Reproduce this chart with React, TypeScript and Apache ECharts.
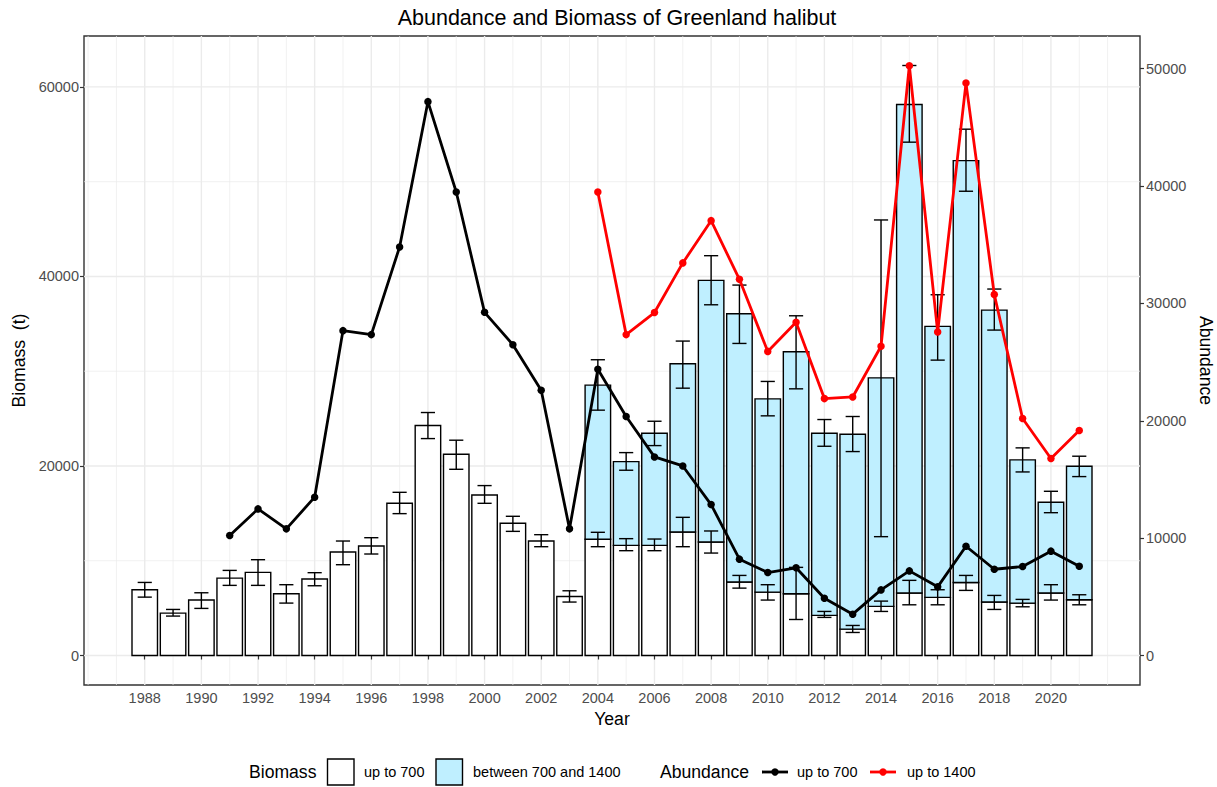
import React, { useEffect, useRef } from "react";
import * as echarts from "echarts";

// ---------- DATA ----------
const years = [
  1988, 1989, 1990, 1991, 1992, 1993, 1994, 1995, 1996, 1997, 1998, 1999, 2000, 2001, 2002, 2003,
  2004, 2005, 2006, 2007, 2008, 2009, 2010, 2011, 2012, 2013, 2014, 2015, 2016, 2017, 2018, 2019, 2020, 2021,
];
// Biomass (t), fish up to 700
const biomassUpTo700 = [
  6940, 4470, 5850, 8170, 8770, 6520, 8070, 10920, 11550, 16060, 24270, 21240, 16940, 13950, 12080, 6230,
  12260, 11620, 11620, 13030, 11980, 7750, 6690, 6520, 4230, 2780, 5180, 6590, 6130, 7710, 5640, 5530, 6590, 5880,
];
const biomassUpTo700Low = [
  6160, 4160, 4970, 7400, 7400, 5530, 7360, 9580, 10710, 14970, 22890, 19650, 16060, 13100, 11480, 5640,
  11480, 11060, 11060, 11480, 10810, 7110, 5850, 3800, 4020, 2430, 4650, 5350, 5350, 6870, 4860, 5140, 5850, 5350,
];
const biomassUpTo700High = [
  7710, 4860, 6620, 8980, 10110, 7470, 8740, 12080, 12430, 17220, 25640, 22720, 17930, 14690, 12750, 6830,
  13000, 12330, 12290, 14580, 13140, 8450, 7470, 9300, 4650, 3170, 5740, 7930, 6940, 8450, 6340, 5920, 7470, 6410,
];
// Biomass (t), fish between 700 and 1400 (stacked on top)
const yearsBig = [2004, 2005, 2006, 2007, 2008, 2009, 2010, 2011, 2012, 2013, 2014, 2015, 2016, 2017, 2018, 2019, 2020, 2021];
const biomass700to1400 = [
  16270, 8840, 11830, 17750, 27610, 28310, 20390, 25530, 19230, 20570, 24120, 51550, 28600, 44510, 30810, 15110, 9580, 14090,
];
const biomassTotalLow = [
  25890, 19550, 22150, 28210, 37010, 32930, 25290, 28140, 22080, 21520, 12540, 54170, 31170, 48990, 34340, 19370, 15070, 18880,
];
const biomassTotalHigh = [
  31210, 21410, 24720, 33180, 42190, 39090, 28920, 35850, 24900, 25220, 45960, 62260, 38070, 55540, 38670, 21910, 17330, 21030,
];
// Abundance
const abundance700Years = [
  1991, 1992, 1993, 1994, 1995, 1996, 1997, 1998, 1999, 2000, 2001, 2002, 2003, 2004, 2005, 2006,
  2007, 2008, 2009, 2010, 2011, 2012, 2013, 2014, 2015, 2016, 2017, 2018, 2019, 2020, 2021,
];
const abundanceUpTo700 = [
  10220, 12490, 10790, 13490, 27680, 27340, 34810, 47190, 39490, 29240, 26480, 22600, 10790, 24390, 20360, 16920,
  16150, 12860, 8210, 7070, 7470, 4880, 3520, 5590, 7210, 5850, 9310, 7350, 7580, 8890, 7610,
];
const abundance1400Years = yearsBig;
const abundanceUpTo1400 = [
  39490, 27340, 29220, 33450, 37050, 32050, 25910, 28390, 21890, 22030, 26350, 50250, 27570, 48770, 30750, 20190, 16780, 19170,
];
// Axis ticks
const xTicks = [1988, 1990, 1992, 1994, 1996, 1998, 2000, 2002, 2004, 2006, 2008, 2010, 2012, 2014, 2016, 2018, 2020];
const leftTicks = [0, 20000, 40000, 60000];
const leftMinorTicks = [10000, 30000, 50000];
const rightTicks = [0, 10000, 20000, 30000, 40000, 50000];

// ---------- LAYOUT / STYLE ----------
const FONT = "Liberation Sans";
const X_MIN = 1985.855;
const X_MAX = 2023.145;
const L_MIN = -3113;
const L_MAX = 65373;
const SEC = 1.2385;
const R_MIN = L_MIN / SEC;
const R_MAX = L_MAX / SEC;
const BAR_HALF = 0.45;
const CAP_HALF = 0.25;
const BLUE = "#BFEFFF";
const GRID_COL = "#EBEBEB";

export default function App() {
  const ref = useRef<HTMLDivElement>(null);

  useEffect(() => {
    if (!ref.current) return;
    const chart = echarts.init(ref.current, undefined, { renderer: "svg" });

    const gridX: number[][] = [];
    for (let y = 1986; y <= 2022; y++) gridX.push([y, xTicks.includes(y) ? 1 : 0]);
    const gridY: number[][] = [
      ...leftMinorTicks.map((v) => [v, 0]),
      ...leftTicks.map((v) => [v, 1]),
    ];

    const whiteBars = years.map((y, i) => [y, 0, biomassUpTo700[i]]);
    const blueBars = yearsBig.map((y, i) => {
      const base = biomassUpTo700[years.indexOf(y)];
      return [y, base, base + biomass700to1400[i]];
    });
    const whiteErr = years.map((y, i) => [y, biomassUpTo700Low[i], biomassUpTo700High[i]]);
    const blueErr = yearsBig.map((y, i) => [y, biomassTotalLow[i], biomassTotalHigh[i]]);

    const barRender = (fill: string) => (params: any, api: any) => {
      const x = api.value(0);
      const lo = api.value(1);
      const hi = api.value(2);
      const p0 = api.coord([x - BAR_HALF, hi]);
      const p1 = api.coord([x + BAR_HALF, lo]);
      return {
        type: "rect",
        shape: { x: p0[0], y: p0[1], width: p1[0] - p0[0], height: p1[1] - p0[1] },
        style: { fill, stroke: "#000", lineWidth: 1.4 },
      };
    };

    const errRender = (params: any, api: any) => {
      const x = api.value(0);
      const lo = api.value(1);
      const hi = api.value(2);
      const a = api.coord([x, lo]);
      const b = api.coord([x, hi]);
      const l = api.coord([x - CAP_HALF, lo]);
      const r = api.coord([x + CAP_HALF, hi]);
      const st = { stroke: "#000", lineWidth: 1.4 };
      return {
        type: "group",
        children: [
          { type: "line", shape: { x1: a[0], y1: a[1], x2: b[0], y2: b[1] }, style: st },
          { type: "line", shape: { x1: l[0], y1: a[1], x2: r[0], y2: a[1] }, style: st },
          { type: "line", shape: { x1: l[0], y1: b[1], x2: r[0], y2: b[1] }, style: st },
        ],
      };
    };

    const vGrid = (params: any, api: any) => {
      const x = api.value(0);
      const major = api.value(1);
      const a = api.coord([x, L_MIN]);
      const b = api.coord([x, L_MAX]);
      return {
        type: "line",
        shape: { x1: a[0], y1: a[1], x2: b[0], y2: b[1] },
        style: { stroke: GRID_COL, lineWidth: major ? 1.4 : 0.7 },
      };
    };
    const hGrid = (params: any, api: any) => {
      const v = api.value(0);
      const major = api.value(1);
      const a = api.coord([X_MIN, v]);
      const b = api.coord([X_MAX, v]);
      return {
        type: "line",
        shape: { x1: a[0], y1: a[1], x2: b[0], y2: b[1] },
        style: { stroke: GRID_COL, lineWidth: major ? 1.4 : 0.7 },
      };
    };

    const tickLabel = { color: "#4D4D4D", fontSize: 14.5, fontFamily: FONT };
    const axisName = { color: "#000", fontSize: 17.6, fontFamily: FONT };
    const tickStyle = { show: true, length: 4, lineStyle: { color: "#333333", width: 1.2 } };

    const legendY = 772;
    const legendText = (text: string, x: number, size: number) => ({
      type: "text",
      x,
      y: legendY,
      style: { text, fontSize: size, fontFamily: FONT, fill: "#000", verticalAlign: "middle", align: "left" },
    });

    chart.setOption({
      animation: false,
      backgroundColor: "#ffffff",
      title: {
        text: "Abundance and Biomass of Greenland halibut",
        left: 612,
        top: 2,
        textAlign: "center",
        textStyle: { fontSize: 21.5, fontWeight: "normal", color: "#000", fontFamily: FONT },
      },
      grid: {
        left: 84,
        top: 36,
        width: 1056,
        height: 649,
        outerBoundsMode: "none",
        containLabel: false,
        show: true,
        backgroundColor: "#fff",
        borderColor: "#333333",
        borderWidth: 1.4,
      },
      xAxis: {
        type: "value",
        min: X_MIN,
        max: X_MAX,
        name: "Year",
        nameLocation: "middle",
        nameGap: 22,
        nameTextStyle: axisName,
        axisLine: { show: false },
        axisTick: { ...tickStyle, customValues: xTicks },
        axisLabel: { ...tickLabel, margin: 5, customValues: xTicks, formatter: (v: number) => String(v) },
        splitLine: { show: false },
      },
      yAxis: [
        {
          type: "value",
          min: L_MIN,
          max: L_MAX,
          name: "Biomass  (t)",
          nameLocation: "middle",
          nameGap: 56,
          nameRotate: 90,
          nameTextStyle: axisName,
          axisLine: { show: false },
          axisTick: { ...tickStyle, customValues: leftTicks },
          axisLabel: { ...tickLabel, margin: 5, customValues: leftTicks, formatter: (v: number) => String(v) },
          splitLine: { show: false },
        },
        {
          type: "value",
          position: "right",
          min: R_MIN,
          max: R_MAX,
          name: "Abundance",
          nameLocation: "middle",
          nameGap: 45,
          nameRotate: -90,
          nameTextStyle: axisName,
          axisLine: { show: false },
          axisTick: { ...tickStyle, customValues: rightTicks },
          axisLabel: { ...tickLabel, margin: 6, customValues: rightTicks, formatter: (v: number) => String(v) },
          splitLine: { show: false },
        },
      ],
      series: [
        { type: "custom", name: "vgrid", silent: true, z: 0, renderItem: vGrid, data: gridX, xAxisIndex: 0, yAxisIndex: 0 },
        { type: "custom", name: "hgrid", silent: true, z: 0, renderItem: hGrid, data: gridY, xAxisIndex: 0, yAxisIndex: 0 },
        { type: "custom", name: "Biomass up to 700", z: 2, renderItem: barRender("#ffffff"), data: whiteBars, xAxisIndex: 0, yAxisIndex: 0 },
        { type: "custom", name: "Biomass between 700 and 1400", z: 2, renderItem: barRender(BLUE), data: blueBars, xAxisIndex: 0, yAxisIndex: 0 },
        { type: "custom", name: "err700", z: 3, renderItem: errRender, data: whiteErr, xAxisIndex: 0, yAxisIndex: 0 },
        { type: "custom", name: "err1400", z: 3, renderItem: errRender, data: blueErr, xAxisIndex: 0, yAxisIndex: 0 },
        {
          type: "line",
          name: "Abundance up to 700",
          z: 4,
          xAxisIndex: 0,
          yAxisIndex: 1,
          data: abundance700Years.map((y, i) => [y, abundanceUpTo700[i]]),
          symbol: "circle",
          symbolSize: 7.5,
          itemStyle: { color: "#000000" },
          lineStyle: { color: "#000000", width: 2.8 },
        },
        {
          type: "line",
          name: "Abundance up to 1400",
          z: 4,
          xAxisIndex: 0,
          yAxisIndex: 1,
          data: abundance1400Years.map((y, i) => [y, abundanceUpTo1400[i]]),
          symbol: "circle",
          symbolSize: 7.5,
          itemStyle: { color: "#FF0000" },
          lineStyle: { color: "#FF0000", width: 2.8 },
        },
      ],
      graphic: [
        legendText("Biomass", 249, 17.6),
        { type: "rect", shape: { x: 327.5, y: 759, width: 26.5, height: 26 }, style: { fill: "#fff", stroke: "#000", lineWidth: 1.4 } },
        legendText("up to 700", 364, 14.5),
        { type: "rect", shape: { x: 436, y: 759, width: 26.5, height: 26 }, style: { fill: BLUE, stroke: "#000", lineWidth: 1.4 } },
        legendText("between 700 and 1400", 473, 14.5),
        legendText("Abundance", 660, 17.6),
        { type: "line", shape: { x1: 762, y1: legendY, x2: 788, y2: legendY }, style: { stroke: "#000", lineWidth: 2.8 } },
        { type: "circle", shape: { cx: 775, cy: legendY, r: 3.7 }, style: { fill: "#000" } },
        legendText("up to 700", 797, 14.5),
        { type: "line", shape: { x1: 870, y1: legendY, x2: 896, y2: legendY }, style: { stroke: "#FF0000", lineWidth: 2.8 } },
        { type: "circle", shape: { cx: 883, cy: legendY, r: 3.7 }, style: { fill: "#FF0000" } },
        legendText("up to 1400", 907, 14.5),
      ],
    });

    return () => chart.dispose();
  }, []);

  return (
    <div
      ref={ref}
      style={{ position: "fixed", left: 0, top: 0, width: 1217, height: 787, background: "#fff" }}
    />
  );
}
